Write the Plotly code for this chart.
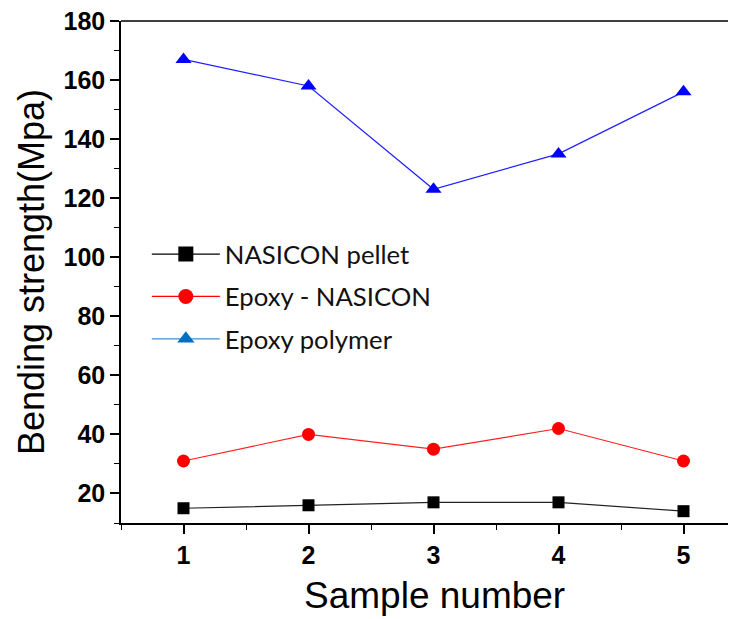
import plotly.graph_objects as go

samples = [1, 2, 3, 4, 5]
nasicon_pellet = [15, 16, 17, 17, 14]
epoxy_nasicon = [31, 40, 35, 42, 31]
epoxy_polymer = [167, 158, 123, 135, 156]
y_ticks = [20, 40, 60, 80, 100, 120, 140, 160, 180]

fig = go.Figure()

fig.add_trace(go.Scatter(x=samples, y=nasicon_pellet, mode="lines+markers", showlegend=False,
                         line=dict(color="#222222", width=1.2),
                         marker=dict(symbol="square", size=12, color="black")))
fig.add_trace(go.Scatter(x=samples, y=epoxy_nasicon, mode="lines+markers", showlegend=False,
                         line=dict(color="#ff2020", width=1.2),
                         marker=dict(symbol="circle", size=13, color="#ff0000")))
fig.add_trace(go.Scatter(x=samples, y=epoxy_polymer, mode="lines+markers", showlegend=False,
                         line=dict(color="#2020ff", width=1.2),
                         marker=dict(symbol="triangle-up", size=14, color="#0000ff")))

for name, lc, mc, sym, g in [
    ("NASICON pellet", "black", "black", "square", "a"),
    ("Epoxy - NASICON", "#ff0000", "#ff0000", "circle", "b"),
    ("Epoxy polymer", "#3a8fd6", "#0070c0", "triangle-up", "c"),
]:
    fig.add_trace(go.Scatter(x=[None], y=[None], mode="lines+markers", name=name, legendgroup=g,
                             line=dict(color=lc, width=1.2),
                             marker=dict(symbol=sym, size=15, color=mc)))

fig.update_layout(
    width=728, height=611,
    margin=dict(l=113, r=0, t=13, b=96),
    paper_bgcolor="white", plot_bgcolor="white",
    font=dict(family="Liberation Sans, Arial", color="black"),
    legend=dict(x=0.042, y=0.582, xanchor="left", yanchor="top",
                font=dict(family="Lato, Carlito, Open Sans", size=25.7, color="#111111"),
                bgcolor="rgba(0,0,0,0)", tracegroupgap=6, traceorder="grouped", itemwidth=68),
    shapes=[dict(type="line", xref="paper", yref="paper", x0=0, x1=1, y0=1, y1=1,
                 line=dict(color="black", width=1.5))],
    annotations=[dict(text="Sample number", xref="paper", yref="paper", x=0.509, y=0,
                      yshift=-72, xanchor="center", yanchor="middle", showarrow=False,
                      font=dict(family="Liberation Sans, Arial", size=37, color="black"))],
)

fig.update_xaxes(
    range=[0.5, 5.42], tickvals=samples, ticktext=[str(s) for s in samples],
    showgrid=False, zeroline=False, showline=True, linecolor="black", linewidth=1.5,
    ticks="outside", ticklen=9, tickwidth=1.5, tickcolor="black",
    minor=dict(dtick=0.5, tick0=0.5, ticks="outside", ticklen=5, tickwidth=1.2, tickcolor="black"),
    tickfont=dict(family="Liberation Sans", size=25, color="black", weight="bold"),
    ticklabeloverflow="allow",
)
fig.update_yaxes(
    range=[10, 180], tickvals=y_ticks,
    showgrid=False, zeroline=False, showline=True, linecolor="black", linewidth=1.5,
    ticks="outside", ticklen=9, tickwidth=1.5, tickcolor="black",
    minor=dict(dtick=10, tick0=10, ticks="outside", ticklen=5, tickwidth=1.2, tickcolor="black"),
    tickfont=dict(family="Liberation Sans", size=25, color="black", weight="bold"),
    ticklabeloverflow="allow",
    title=dict(text="Bending strength(Mpa)", font=dict(family="Liberation Sans, Arial", size=36, color="black"), standoff=8),
)

fig.write_html("out.html")
